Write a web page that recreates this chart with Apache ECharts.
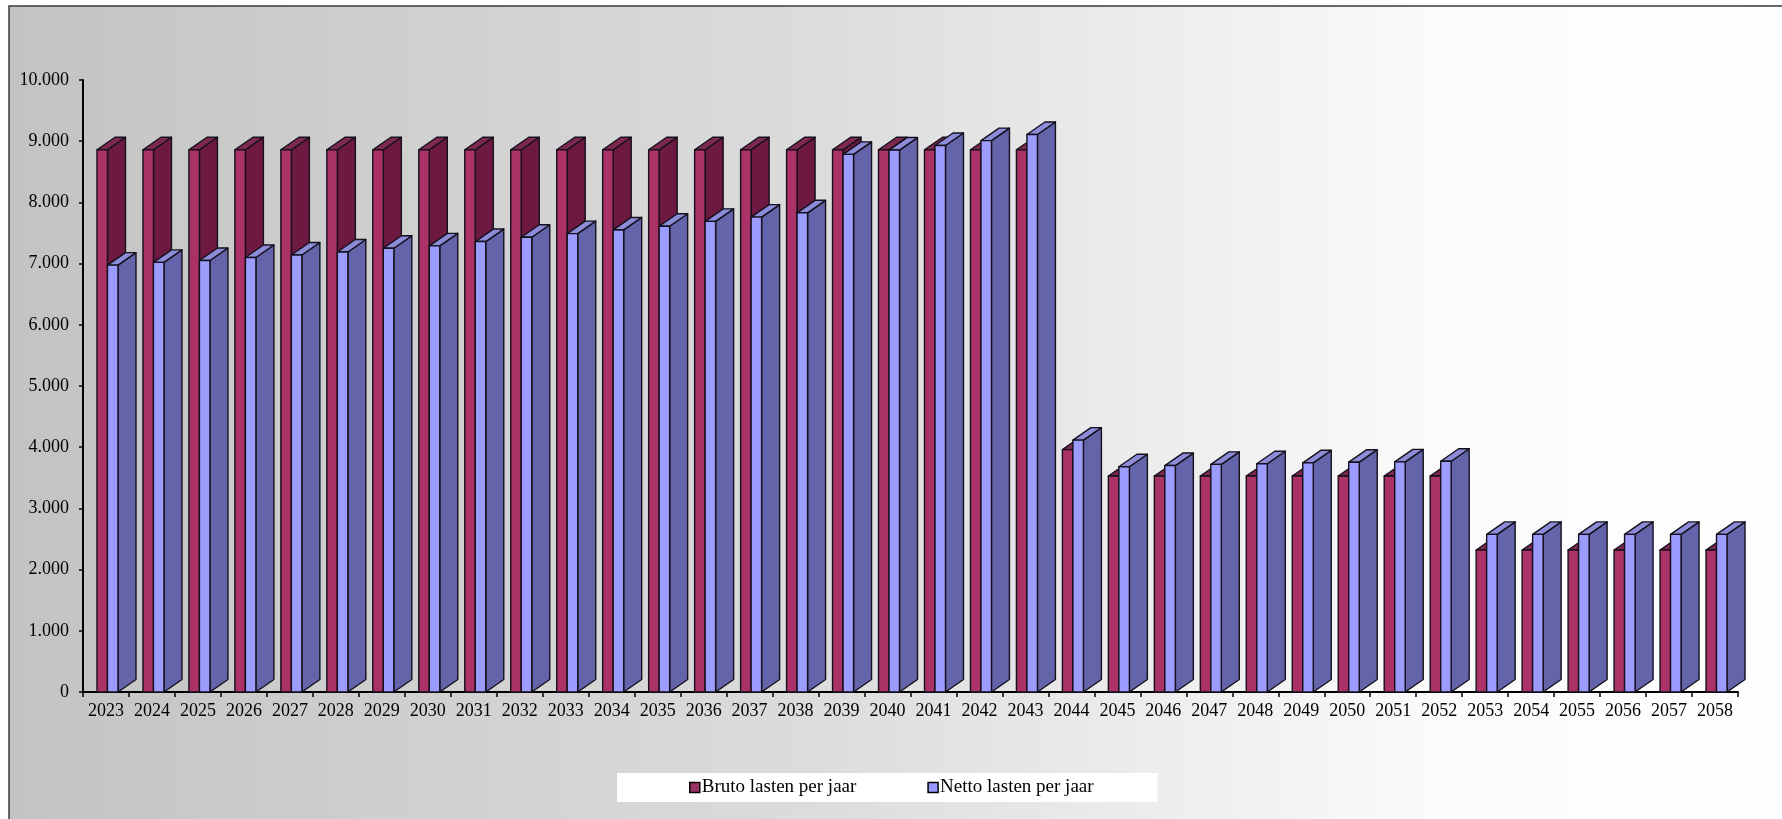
<!DOCTYPE html>
<html>
<head>
<meta charset="utf-8">
<title>Lasten per jaar</title>
<style>
	html, body { margin: 0; padding: 0; background: #fff; }
	#chart { width: 1782px; height: 819px; }
</style>
<script src="https://cdn.jsdelivr.net/npm/echarts@6/dist/echarts.min.js"></script>
</head>
<body>
<div id="chart"></div>
<script type="text/javascript">
	// jaren op de x-as
	var years = [];
	for (var y = 2023; y <= 2058; y++) years.push(String(y));

	// waarden
	var bruto = [
		8860, 8860, 8860, 8860, 8860, 8860, 8860, 8860, 8860, 8860,
		8860, 8860, 8860, 8860, 8860, 8860, 8860, 8860, 8860, 8860,
		8860, 3960, 3530, 3530, 3530, 3530, 3530, 3530, 3530, 3530,
		2320, 2320, 2320, 2320, 2320, 2320
	];
	var netto = [
		6975, 7020, 7050, 7100, 7140, 7190, 7250, 7290, 7360, 7430,
		7490, 7550, 7610, 7690, 7760, 7830, 8785, 8855, 8930, 9010,
		9110, 4115, 3680, 3700, 3720, 3730, 3745, 3755, 3760, 3770,
		2575, 2575, 2575, 2575, 2575, 2575
	];
	var yTicks = [0, 1000, 2000, 3000, 4000, 5000, 6000, 7000, 8000, 9000, 10000];

	var seriesNames = ['Bruto lasten per jaar', 'Netto lasten per jaar'];

	function fmt(v) {
		if (v === 0) return '0';
		return Math.floor(v / 1000) + '.' + ('00' + (v % 1000)).slice(-3);
	}

	// kleur van voorkant, zijkant en bovenkant
	var faces = [
		{ front: '#AA3266', side: '#6E1941', top: '#7D2850', legend: '#993366' },
		{ front: '#9C9CFF', side: '#6464AA', top: '#8C8CD8', legend: '#9999FF' }
	];

	function makeRender(idx) {
		return function (params, api) {
			var i = api.value(0);
			var top = api.coord([i, api.value(1)]);
			var base = api.coord([i, 0]);
			var bw = 10.5;
			var dx = 18, dy = 12.5;
			var x0 = idx === 0 ? top[0] + 1.5 - bw : top[0] + 1.5;
			var x1 = x0 + bw;
			var yt = top[1], yb = base[1];
			var c = faces[idx];
			var stroke = { stroke: '#15101c', lineWidth: 1.4, lineJoin: 'round' };
			return {
				type: 'group',
				children: [
					{
						type: 'polygon',
						shape: { points: [[x1, yt], [x1 + dx, yt - dy], [x1 + dx, yb - dy], [x1, yb]] },
						style: Object.assign({ fill: c.side }, stroke)
					},
					{
						type: 'polygon',
						shape: { points: [[x0, yt], [x0 + dx, yt - dy], [x1 + dx, yt - dy], [x1, yt]] },
						style: Object.assign({ fill: c.top }, stroke)
					},
					{
						type: 'rect',
						shape: { x: x0, y: yt, width: bw, height: yb - yt },
						style: Object.assign({ fill: c.front }, stroke)
					}
				]
			};
		};
	}

	function toData(arr) {
		var out = [];
		for (var i = 0; i < arr.length; i++) out.push([i, arr[i]]);
		return out;
	}

	var myChart = echarts.init(document.getElementById('chart'));
	var font = '"Liberation Serif", "Times New Roman", serif';

	var option = {
		animation: false,
		graphic: [{
			type: 'rect',
			z: -10,
			shape: { x: 9, y: 6, width: 1790, height: 830 },
			style: {
				fill: new echarts.graphic.LinearGradient(0, 0, 1, 0, [
					{ offset: 0, color: '#c3c3c3' },
					{ offset: 0.45, color: '#dcdcdc' },
					{ offset: 0.8, color: '#fbfbfb' },
					{ offset: 1, color: '#ffffff' }
				]),
				stroke: '#3a3a3a',
				lineWidth: 1.5
			}
		}],
		grid: { left: 83, right: 44, top: 80, bottom: 127 },
		legend: {
			left: 617,
			top: 773,
			backgroundColor: '#ffffff',
			padding: [5, 64, 5, 72],
			itemGap: 71,
			itemWidth: 10,
			itemHeight: 10,
			icon: 'rect',
			itemStyle: { borderColor: '#000', borderWidth: 1.5 },
			textStyle: { fontFamily: font, fontSize: 19, color: '#000', padding: [0, 0, 0, -3] },
			data: seriesNames
		},
		xAxis: {
			type: 'category',
			data: years,
			axisLine: { lineStyle: { color: '#000', width: 2 } },
			axisTick: { show: true, length: 5, lineStyle: { color: '#000', width: 1.5 } },
			axisLabel: { interval: 0, margin: 10, color: '#000', fontFamily: font, fontSize: 18 },
			splitLine: { show: false }
		},
		yAxis: {
			type: 'value',
			min: yTicks[0],
			max: yTicks[yTicks.length - 1],
			interval: 1000,
			axisLine: { show: true, lineStyle: { color: '#000', width: 2 } },
			axisTick: { show: true, length: 4, lineStyle: { color: '#000', width: 1.5 } },
			axisLabel: { margin: 14, color: '#000', fontFamily: font, fontSize: 18, formatter: fmt },
			splitLine: { show: false }
		},
		series: [{
			name: seriesNames[0],
			type: 'custom',
			z: 2,
			itemStyle: { color: faces[0].legend },
			encode: { x: 0, y: 1 },
			renderItem: makeRender(0),
			data: toData(bruto)
		}, {
			name: seriesNames[1],
			type: 'custom',
			z: 3,
			itemStyle: { color: faces[1].legend },
			encode: { x: 0, y: 1 },
			renderItem: makeRender(1),
			data: toData(netto)
		}]
	};

	myChart.setOption(option);
</script>
</body>
</html>
